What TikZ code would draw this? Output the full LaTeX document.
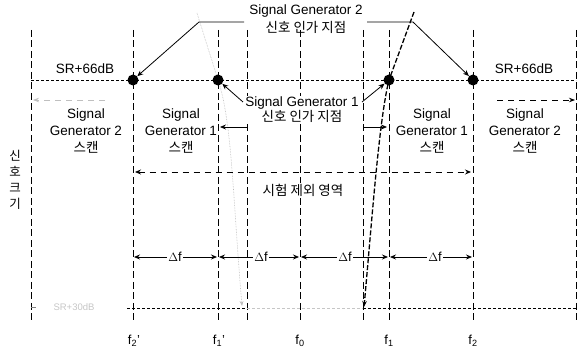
\documentclass[tikz,border=0pt]{standalone}
\usepackage{fontspec}
\setmainfont{Liberation Sans}
\newfontfamily\kr{Noto Sans CJK KR}
\usetikzlibrary{arrows.meta}
\begin{document}
\begin{tikzpicture}[x=1pt,y=-1pt,
  vline/.style={line width=0.9pt, dash pattern=on 7pt off 3.5pt},
  hline/.style={line width=0.8pt, dash pattern=on 3pt off 2pt},
  xline/.style={line width=0.8pt, dash pattern=on 6pt off 5pt},
  dot/.style={circle, fill=black, inner sep=0pt, minimum size=11pt},
  lbl/.style={font=\fontsize{13.5}{17}\selectfont, align=center, inner sep=1pt},
  wlbl/.style={lbl, fill=white},
  df/.style={font=\fontsize{13}{14}\selectfont, fill=white, inner sep=1.5pt},
  flbl/.style={font=\fontsize{13}{14}\selectfont},
  tip/.style={-{Stealth[length=6pt,width=5pt]}, line width=0.8pt}]
\useasboundingbox (0,0) rectangle (587,355);
% vertical dashed lines
\foreach \n/\x in {a/31,b/133,c/218,d/247,e/300,f/363,g/389,h/473,i/576}{
  \coordinate (\n t) at (\x,30);
  \coordinate (\n b) at (\x,322);
  \draw[vline] (\n t) -- (\n b);
}
% level lines
\coordinate (srl) at (31,80);
\coordinate (srr) at (576,80);
\draw[hline] (srl) -- (srr);
\coordinate (bl0) at (127,308);
\coordinate (bl1) at (247,308);
\coordinate (bl2) at (363,308);
\coordinate (bl3) at (576,308);
\draw[hline] (bl0) -- (bl1);
\draw[hline, gray!45] (bl1) -- (bl2);
\draw[hline] (bl2) -- (bl3);
\coordinate (tk0) at (31,307);
\coordinate (tk1) at (36,307);
\draw[line width=0.6pt, gray] (tk0) -- (tk1);
\node[font=\fontsize{9.5}{10}\selectfont, text=gray!45] (srlow) at (74,307) {SR+30dB};
% signal skirts
\coordinate (sa0) at (197,13);
\coordinate (sa1) at (218,80);
\coordinate (sa2) at (242,306);
\draw[gray!55, line width=0.6pt, densely dotted, -{Stealth[length=5pt]}] (sa0) -- (sa1) .. controls (232,120) and (233,200) .. (sa2);
\coordinate (sb0) at (414,12);
\coordinate (sb1) at (389,80);
\coordinate (sb2) at (364,307);
\draw[line width=1.3pt, dash pattern=on 5pt off 2pt, -{Stealth[length=6pt]}] (sb0) -- (sb1) .. controls (379,120) and (372,220) .. (sb2);
% labels
\node[lbl, font=\fontsize{13.5}{18}\selectfont] (sgtop) at (306,19) {Signal Generator 2\\{\kr 신호 인가 지점}};
\node[wlbl, font=\fontsize{13.5}{15}\selectfont] (sgmid) at (302,110) {Signal Generator 1\\{\kr 신호 인가 지점}};
\node[lbl] (sr1) at (85,69) {SR+66dB};
\node[lbl] (sr2) at (524,69) {SR+66dB};
\node[lbl] (scan2l) at (86,131) {Signal\\Generator 2\\{\kr 스캔}};
\node[lbl] (scan1l) at (181,131) {Signal\\Generator 1\\{\kr 스캔}};
\node[lbl] (scan1r) at (432,131) {Signal\\Generator 1\\{\kr 스캔}};
\node[lbl] (scan2r) at (525,131) {Signal\\Generator 2\\{\kr 스캔}};
\node[wlbl] (excl) at (303,190) {\kr 시험 제외 영역};
\node[font=\kr\fontsize{12.5}{16}\selectfont, align=center] (ylab) at (15,180) {신\\호\\크\\기};
% dots
\node[dot] (d1) at (133,80) {};
\node[dot] (d2) at (218,80) {};
\node[dot] (d3) at (389,80) {};
\node[dot] (d4) at (473,80) {};
% pointer arrows
\coordinate (p1) at (244,22);
\coordinate (k1) at (199,22);
\draw[tip] (p1) -- (k1) -- (d1);
\coordinate (p2) at (367,22);
\coordinate (k2) at (413,22);
\draw[tip] (p2) -- (k2) -- (d4);
\coordinate (m1) at (243,102);
\coordinate (m2) at (362,102);
\draw[tip] (m1) -- (d2);
\draw[tip] (m2) -- (d3);
% scan direction arrows
\coordinate (s1a) at (247,127);
\coordinate (s1b) at (220,127);
\coordinate (s2a) at (363,127);
\coordinate (s2b) at (387,127);
\draw[tip] (s1a) -- (s1b);
\draw[tip] (s2a) -- (s2b);
\coordinate (o1a) at (105,100);
\coordinate (o1b) at (33,100);
\coordinate (o2a) at (497,100);
\coordinate (o2b) at (575,100);
\draw[xline, gray!50, -{Stealth[length=6pt]}] (o1a) -- (o1b);
\draw[xline, -{Stealth[length=6pt]}] (o2a) -- (o2b);
% exclusion band
\coordinate (x1) at (135,172);
\coordinate (x2) at (471,172);
\draw[xline, {Stealth[length=6pt,width=5pt]}-{Stealth[length=6pt,width=5pt]}] (x1) -- (x2);
% delta f
\node[df] (df1) at (175,257) {$\Delta$f};
\node[df] (df2) at (261,257) {$\Delta$f};
\node[df] (df3) at (345,257) {$\Delta$f};
\node[df] (df4) at (435,257) {$\Delta$f};
\coordinate (q1) at (134,257);
\coordinate (q2) at (217,257);
\coordinate (q3) at (219,257);
\coordinate (q4) at (299,257);
\coordinate (q5) at (301,257);
\coordinate (q6) at (388,257);
\coordinate (q7) at (390,257);
\coordinate (q8) at (472,257);
\draw[tip] (df1) -- (q1);
\draw[tip] (df1) -- (q2);
\draw[tip] (df2) -- (q3);
\draw[tip] (df2) -- (q4);
\draw[tip] (df3) -- (q5);
\draw[tip] (df3) -- (q6);
\draw[tip] (df4) -- (q7);
\draw[tip] (df4) -- (q8);
% frequency labels
\node[flbl] (f2p) at (134,341) {f\textsubscript{2}'};
\node[flbl] (f1p) at (219,341) {f\textsubscript{1}'};
\node[flbl] (f0) at (300,341) {f\textsubscript{0}};
\node[flbl] (f1) at (389,341) {f\textsubscript{1}};
\node[flbl] (f2) at (473,341) {f\textsubscript{2}};
\end{tikzpicture}
\end{document}
